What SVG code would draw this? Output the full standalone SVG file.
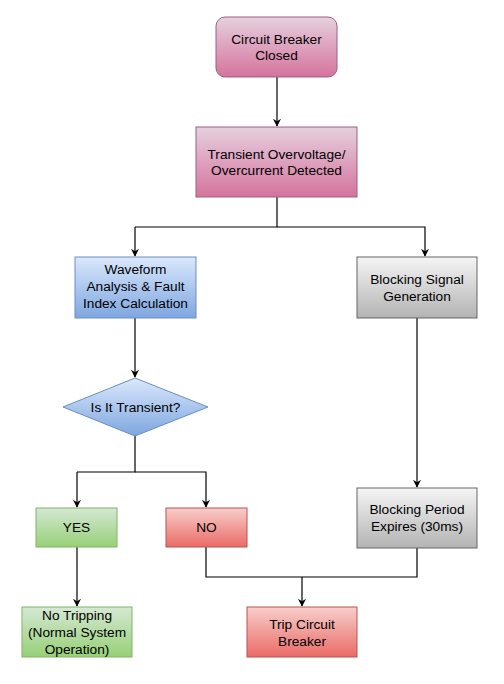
<svg xmlns="http://www.w3.org/2000/svg" width="504" height="684" viewBox="0 0 504 684">
<defs>
<linearGradient id="gPink" x1="0" y1="0" x2="0" y2="1"><stop offset="0" stop-color="#e6d0de"/><stop offset="1" stop-color="#d5739d"/></linearGradient>
<linearGradient id="gBlue" x1="0" y1="0" x2="0" y2="1"><stop offset="0" stop-color="#dae8fc"/><stop offset="1" stop-color="#7ea6e0"/></linearGradient>
<linearGradient id="gGray" x1="0" y1="0" x2="0" y2="1"><stop offset="0" stop-color="#f5f5f5"/><stop offset="1" stop-color="#b3b3b3"/></linearGradient>
<linearGradient id="gGreen" x1="0" y1="0" x2="0" y2="1"><stop offset="0" stop-color="#d5e8d4"/><stop offset="1" stop-color="#97d077"/></linearGradient>
<linearGradient id="gRed" x1="0" y1="0" x2="0" y2="1"><stop offset="0" stop-color="#f8cecc"/><stop offset="1" stop-color="#ea6b66"/></linearGradient>
<marker id="arr" viewBox="0 0 10 10" refX="9" refY="5" markerWidth="8" markerHeight="8" markerUnits="userSpaceOnUse" orient="auto">
<path d="M0,0 L10,5 L0,10 L3,5 Z" fill="#000"/>
</marker>
</defs>
<style>
text{font-family:"Liberation Sans",Arial,sans-serif;font-size:13.7px;fill:#000;text-anchor:middle}
.pink{fill:url(#gPink);stroke:#996185}
.blue{fill:url(#gBlue);stroke:#6c8ebf}
.gray{fill:url(#gGray);stroke:#666666}
.green{fill:url(#gGreen);stroke:#82b366}
.red{fill:url(#gRed);stroke:#b85450}
.c{fill:none;stroke:#000;stroke-width:1.2;marker-end:url(#arr)}
.l{fill:none;stroke:#000;stroke-width:1.2}
</style>
<rect width="504" height="684" fill="#fff"/>
<g id="connectors">
<path class="c" d="M277,77 V126"/>
<path class="l" d="M277,197 V227 H135"/>
<path class="c" d="M135,227 V256"/>
<path class="c" d="M277,227 H425 V256"/>
<path class="c" d="M135,318 V377"/>
<path class="c" d="M417,318 V487"/>
<path class="l" d="M135,435 V472 H77"/>
<path class="c" d="M77,472 V507"/>
<path class="c" d="M135,472 H206 V507"/>
<path class="c" d="M77,547 V606"/>
<path class="l" d="M206,547 V577 H417 V548"/>
<path class="c" d="M302,577 V606"/>
</g>
<g id="n1"><rect class="pink" x="216" y="17" width="121" height="60" rx="9"/><text x="276.5" y="44">Circuit Breaker</text><text x="276.5" y="60">Closed</text></g>
<g id="n2"><rect class="pink" x="196" y="127" width="161" height="70"/><text x="276.5" y="159">Transient Overvoltage/</text><text x="276.5" y="175">Overcurrent Detected</text></g>
<g id="n3"><rect class="blue" x="75" y="257" width="121" height="61"/><text x="135.5" y="274">Waveform</text><text x="135.5" y="291">Analysis &amp; Fault</text><text x="135.5" y="308">Index Calculation</text></g>
<g id="n4"><rect class="gray" x="357" y="257" width="120" height="61"/><text x="417" y="284">Blocking Signal</text><text x="417" y="301">Generation</text></g>
<g id="n5"><path class="blue" d="M135,378 L208,407 L135,436 L63,407 Z"/><text x="135.5" y="412">Is It Transient?</text></g>
<g id="n6"><rect class="gray" x="357" y="488" width="120" height="60"/><text x="417" y="514">Blocking Period</text><text x="417" y="531">Expires (30ms)</text></g>
<g id="n7"><rect class="green" x="36" y="508" width="81" height="39"/><text x="76.5" y="532">YES</text></g>
<g id="n8"><rect class="red" x="166" y="508" width="81" height="39"/><text x="206.5" y="532">NO</text></g>
<g id="n9"><rect class="green" x="22" y="607" width="110" height="50"/><text x="77" y="620">No Tripping</text><text x="77" y="637">(Normal System</text><text x="77" y="654">Operation)</text></g>
<g id="n10"><rect class="red" x="247" y="607" width="110" height="50"/><text x="302" y="629">Trip Circuit</text><text x="302" y="646">Breaker</text></g>
</svg>
